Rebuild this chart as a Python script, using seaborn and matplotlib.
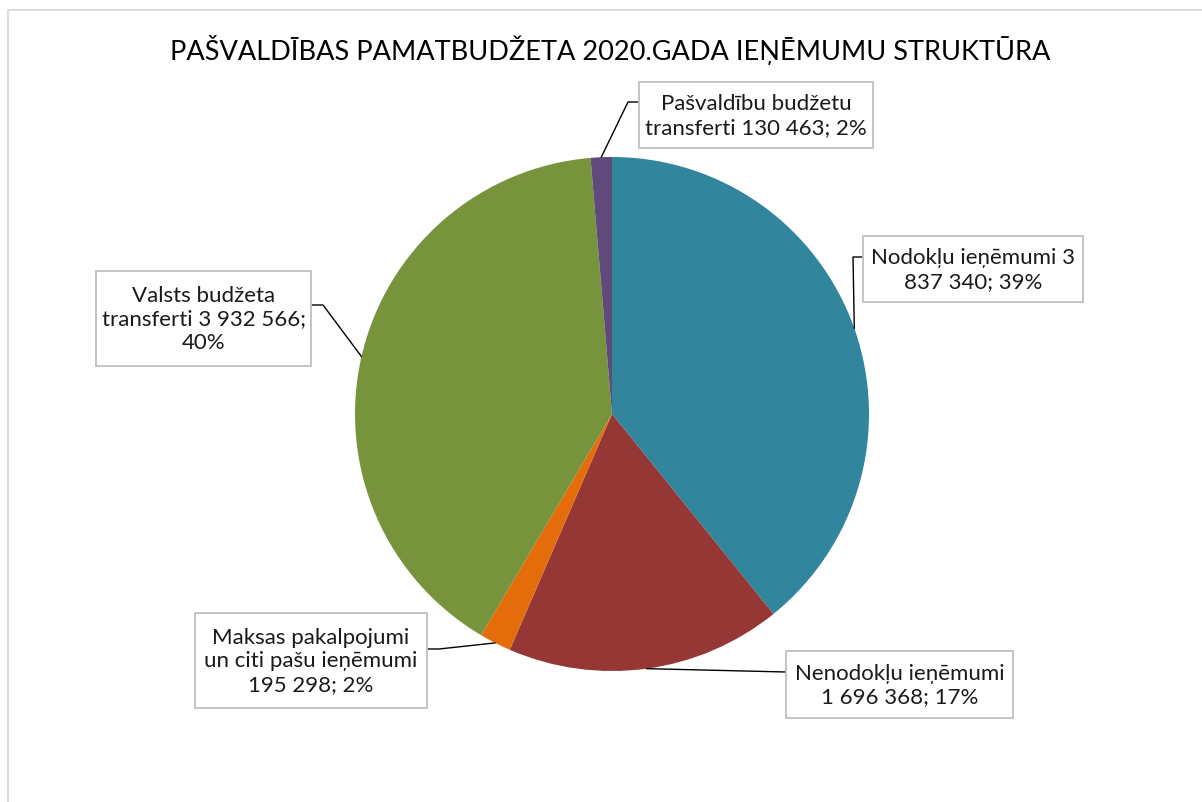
import numpy as np
import matplotlib.pyplot as plt
import seaborn as sns
from matplotlib.patches import Rectangle

# data
categories = ['Nodokļu ieņēmumi', 'Nenodokļu ieņēmumi',
              'Maksas pakalpojumi un citi pašu ieņēmumi',
              'Valsts budžeta transferti', 'Pašvaldību budžetu transferti']
values = [3837340, 1696368, 195298, 3932566, 130463]
label_texts = ['Nodokļu ieņēmumi 3\n837 340; 39%',
               'Nenodokļu ieņēmumi\n1 696 368; 17%',
               'Maksas pakalpojumi\nun citi pašu ieņēmumi\n195 298; 2%',
               'Valsts budžeta\ntransferti 3 932 566;\n40%',
               'Pašvaldību budžetu\ntransferti 130 463; 2%']
colors = ['#31859C', '#953735', '#E46C0A', '#77933C', '#604A7B']
title = 'PAŠVALDĪBAS PAMATBUDŽETA 2020.GADA IEŅĒMUMU STRUKTŪRA'

sns.set_theme(style='white')
plt.rcParams['font.family'] = ['Lato', 'Open Sans', 'DejaVu Sans']

W, H = 1202, 803
CX, CY, R = 612, 415, 257  # pie centre and radius in pixels


def px(x, y):
    # pixel position -> data units of the pie axes
    return (x - CX) / R, (CY - y) / R


fig = plt.figure(figsize=(W / 100, H / 100), dpi=100)
ax = fig.add_axes([0, 0, 1, 1])
wedges, _ = ax.pie(values, colors=colors, startangle=90, counterclock=False,
                   wedgeprops=dict(linewidth=0))
ax.set_xlim(-CX / R, (W - CX) / R)
ax.set_ylim((CY - H) / R, CY / R)
ax.set_aspect('auto')
ax.axis('off')

# label boxes (left, top, right, bottom in px) and leader line bends
boxes = [(863, 237, 1083, 303), (786, 652, 1013, 719), (195, 614, 427, 709),
         (96, 272, 311, 367), (639, 83, 873, 149)]
bends = [[(863, 258), (853, 258)], [(786, 673)], [(427, 650), (439, 650)],
         [(311, 306), (323, 306)], [(639, 103), (628, 103)]]

for w, txt, box, bend in zip(wedges, label_texts, boxes, bends):
    mid = np.deg2rad((w.theta1 + w.theta2) / 2)
    pts = [px(*p) for p in bend] + [(np.cos(mid), np.sin(mid))]
    ax.plot([p[0] for p in pts], [p[1] for p in pts], color='black', lw=1)
    x0, y0 = px(box[0], box[3])
    x1, y1 = px(box[2], box[1])
    ax.add_patch(Rectangle((x0, y0), x1 - x0, y1 - y0, fc='white',
                           ec='#BFBFBF', lw=1.3, zorder=3))
    ax.text((x0 + x1) / 2, (y0 + y1) / 2, txt, ha='center', va='center',
            fontsize=16, color='#1a1a1a', linespacing=1.2, zorder=4)

fig.text(610 / W, 1 - 50 / H, title, ha='center', va='center',
         fontsize=19.5, color='black')

# chart area border
fig.add_artist(Rectangle((7.5 / W, -0.05), 2, 1.05 - 11 / H,
                         transform=fig.transFigure, fill=False,
                         ec='#D9D9D9', lw=1.3))

fig.savefig('out.png', dpi=100)
